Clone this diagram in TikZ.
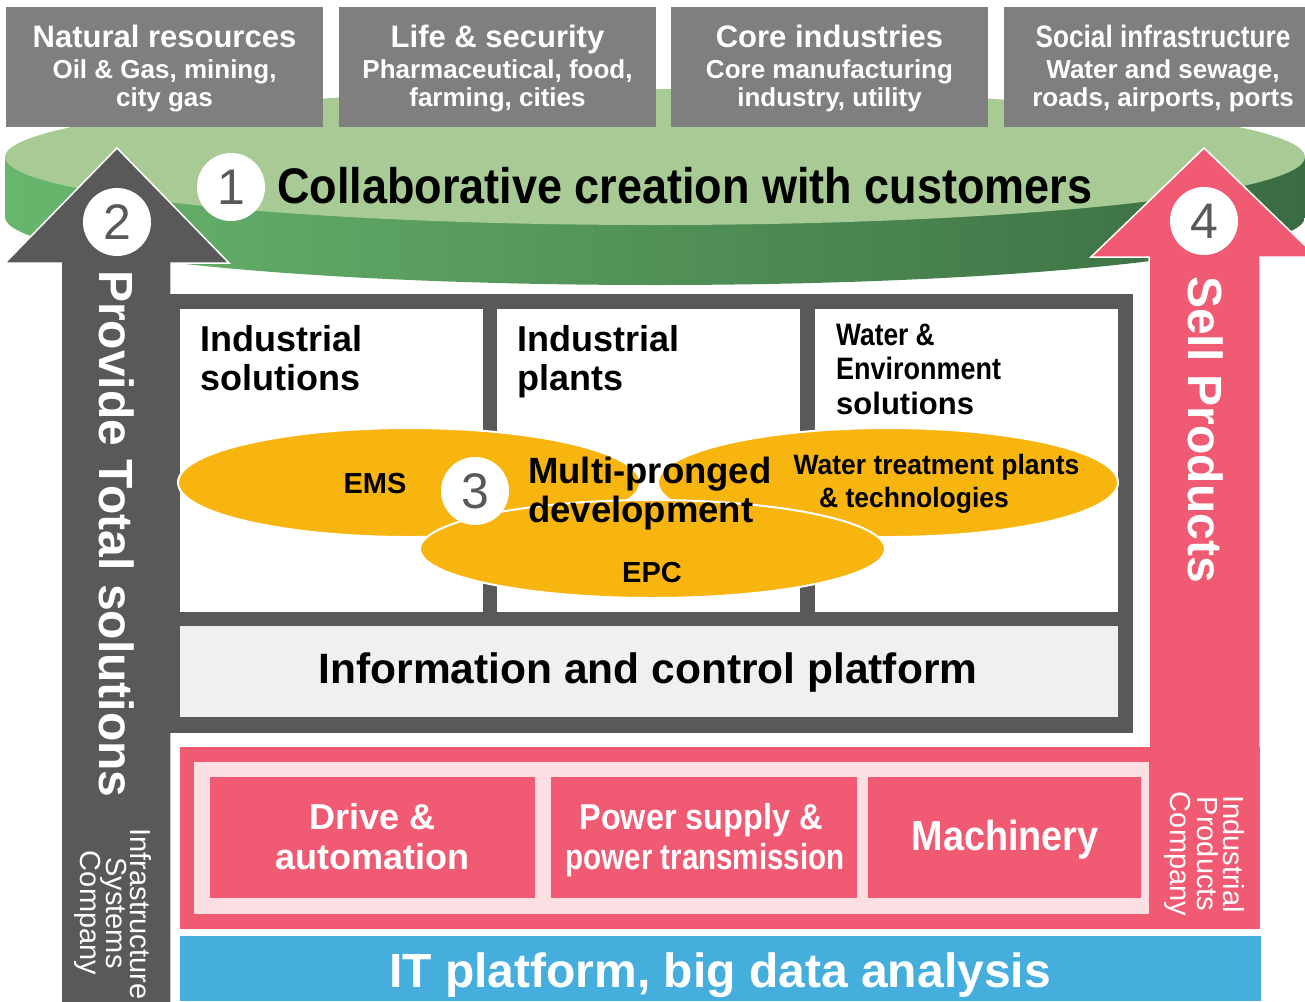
\documentclass[tikz,border=0pt]{standalone}
\usepackage{fontspec}
\setmainfont{Liberation Sans}
\usepackage{graphicx}
\usetikzlibrary{shapes.geometric}
\definecolor{topgray}{HTML}{7F7F7F}
\definecolor{dkgray}{HTML}{595959}
\definecolor{ltgray}{HTML}{F0F0F0}
\definecolor{pinkc}{HTML}{F05A73}
\definecolor{ltpink}{HTML}{FCDEE3}
\definecolor{bluec}{HTML}{45AEDC}
\definecolor{orangec}{HTML}{F8B40F}
\definecolor{ltgreen}{HTML}{A8CB96}
\definecolor{grnL}{HTML}{68B66E}
\definecolor{grnM}{HTML}{559A5C}
\definecolor{grnR}{HTML}{3A6C41}
\newcommand{\hsq}[2]{\scalebox{#1}[1]{#2}}
\newcommand{\fsz}[1]{\fontsize{#1}{#1}\selectfont}
\tikzset{
  topbox/.style={fill=topgray, minimum width=317pt, minimum height=120pt, inner sep=0pt, draw=none},
  toptitle/.style={text=white, font=\bfseries\fsz{31}, anchor=base, inner sep=0pt},
  topsub/.style={text=white, font=\bfseries\fsz{26}, anchor=base, inner sep=0pt},
  numcirc/.style={circle, fill=white, minimum size=68pt, inner sep=0pt, text=dkgray, font=\fsz{50}},
  oval/.style={ellipse, fill=orangec, draw=white, line width=2pt, inner sep=0pt},
  midtitle/.style={anchor=base west, inner sep=0pt, font=\bfseries\fsz{36}},
  wtitle/.style={anchor=base west, inner sep=0pt, font=\bfseries\fsz{31}},
  lbl/.style={anchor=base, inner sep=0pt},
  pinklbl/.style={anchor=base, inner sep=0pt, text=white, font=\bfseries\fsz{36}},
  vlabel/.style={rotate=-90, anchor=base west, inner sep=0pt, text=white, font=\bfseries\fsz{48}},
  cmplabel/.style={rotate=-90, anchor=base, inner sep=0pt, text=white, font=\fsz{29}},
  arrowshape/.style={draw=white, line width=1.5pt, line join=miter}
}
\begin{document}
\begin{tikzpicture}[x=1pt,y=-1pt]
\useasboundingbox (0,0) rectangle (1305,1001);
\clip (0,0) rectangle (1305,1001);
\fill[white] (0,0) rectangle (1305,1001);

% green disc
\shade[left color=grnL, middle color=grnM, right color=grnR] (655,217) ellipse [x radius=650, y radius=68];
\shade[left color=grnL, middle color=grnM, right color=grnR] (5,157) rectangle (1305,217);
\fill[ltgreen] (655,157) ellipse [x radius=650, y radius=68];

% top boxes
\node[topbox] (b1) at (164.5,67) {};
\node[topbox] (b2) at (497.5,67) {};
\node[topbox] (b3) at (829.5,67) {};
\node[topbox] (b4) at (1162.5,67) {};
\node[toptitle] (t1) at (164.5,47) {Natural resources};
\node[topsub] (t1a) at (164.5,78) {Oil \& Gas, mining,};
\node[topsub] (t1b) at (164.5,106) {city gas};
\node[toptitle] (t2) at (497.5,47) {Life \& security};
\node[topsub] (t2a) at (497.5,78) {Pharmaceutical, food,};
\node[topsub] (t2b) at (497.5,106) {farming, cities};
\node[toptitle] (t3) at (829.5,47) {Core industries};
\node[topsub] (t3a) at (829.5,78) {Core manufacturing};
\node[topsub] (t3b) at (829.5,106) {industry, utility};
\node[toptitle] (t4) at (1163,47) {\hsq{0.845}{Social infrastructure}};
\node[topsub] (t4a) at (1163,78) {Water and sewage,};
\node[topsub] (t4b) at (1163,106) {roads, airports, ports};

% collaborative creation
\node[anchor=base west, inner sep=0pt, font=\bfseries\fsz{50}] (collab) at (277,203) {\hsq{0.9}{Collaborative creation with customers}};
\node[numcirc] (n1) at (231,187) {1};

% left arrow (2)
\draw[arrowshape, fill=dkgray] (61,1010) -- (61,263) -- (5,263) -- (117,148) -- (229,263) -- (171,263) -- (171,1010) -- cycle;
\node[numcirc] (n2) at (117,222) {2};
\node[vlabel] (provide) at (99,270) {Provide Total solutions};
\node[cmplabel] (isc1) at (130,914) {Infrastructure};
\node[cmplabel] (isc2) at (106,913) {Systems};
\node[cmplabel] (isc3) at (80,913) {Company};

% right arrow (4)
\draw[arrowshape, fill=pinkc] (1149,929) -- (1149,257) -- (1091,257) -- (1204,148) -- (1317,257) -- (1260,257) -- (1260,929) -- cycle;
\node[numcirc] (n4) at (1204,221) {4};
\node[vlabel] (sell) at (1188,276) {Sell Products};

% middle frame
\fill[dkgray] (170,294) rectangle (1133,733);
\fill[white] (180,309) rectangle (483,612);
\fill[white] (497,309) rectangle (800,612);
\fill[white] (815,309) rectangle (1118,612);
\fill[ltgray] (180,626) rectangle (1118,717);
\node[midtitle] (is1) at (200,351) {Industrial};
\node[midtitle] (is2) at (200,390) {solutions};
\node[midtitle] (ip1) at (517,351) {Industrial};
\node[midtitle] (ip2) at (517,390) {plants};
\node[wtitle] (we1) at (836,345) {\hsq{0.85}{Water \&}};
\node[wtitle] (we2) at (836,379) {\hsq{0.87}{Environment}};
\node[wtitle] (we3) at (836,414) {solutions};

% ovals
\node[oval, minimum width=462pt, minimum height=109pt] (ems) at (409,482.5) {};
\node[oval, minimum width=460pt, minimum height=109pt] (wat) at (888,482.5) {};
\node[oval, minimum width=465pt, minimum height=98pt] (epc) at (652.5,549) {};
\node[numcirc] (n3) at (475,491) {3};
\node[lbl, font=\bfseries\fsz{29}] (emst) at (375,493) {EMS};
\node[lbl, font=\bfseries\fsz{29}] (epct) at (652,582) {EPC};
\node[lbl, font=\bfseries\fsz{28}] (watt1) at (936.5,474) {\hsq{0.945}{Water treatment plants}};
\node[lbl, font=\bfseries\fsz{28}] (watt2) at (914,507) {\hsq{0.945}{\& technologies}};
\node[anchor=base west, inner sep=0pt, font=\bfseries\fsz{36.5}] (mp1) at (528,483) {Multi-pronged};
\node[anchor=base west, inner sep=0pt, font=\bfseries\fsz{36.5}] (mp2) at (528,522) {development};

\node[lbl, font=\bfseries\fsz{42.5}] (info) at (648,683) {Information and control platform};

% pink products block
\fill[pinkc] (180,747) rectangle (1260,929);
\fill[ltpink] (194,762) rectangle (1149,914);
\fill[pinkc] (210,777) rectangle (535,898);
\fill[pinkc] (551,777) rectangle (857,898);
\fill[pinkc] (868,777) rectangle (1141,898);
\node[pinklbl] (da1) at (372.5,829) {Drive \&};
\node[pinklbl] (da2) at (372.5,869) {automation};
\node[pinklbl] (ps1) at (701,829) {\hsq{0.9}{Power supply \&}};
\node[pinklbl] (ps2) at (705,869) {\hsq{0.82}{power transmission}};
\node[pinklbl, font=\bfseries\fsz{42}] (mach) at (1005,850) {\hsq{0.9}{Machinery}};
\node[cmplabel] (ipc1) at (1223,854) {Industrial};
\node[cmplabel] (ipc2) at (1197,854) {Products};
\node[cmplabel] (ipc3) at (1170,854) {Company};

% IT platform
\fill[bluec] (180,936) rectangle (1261,1001);
\node[lbl, text=white, font=\bfseries\fsz{48}] (it) at (720,987) {IT platform, big data analysis};
\end{tikzpicture}
\end{document}
